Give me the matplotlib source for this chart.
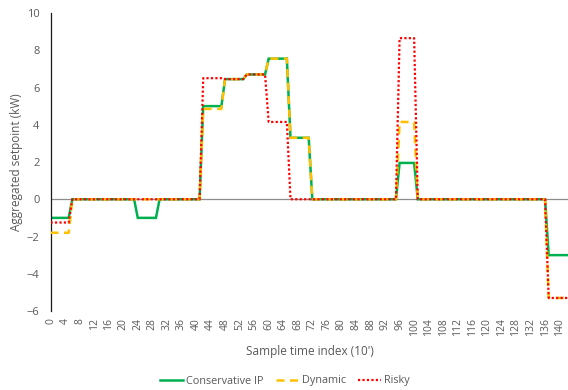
import numpy as np
import matplotlib.pyplot as plt

plt.rcParams['font.family'] = ['Open Sans', 'DejaVu Sans']

# setpoint runs per strategy: (number of samples, value in kW)
conservative_runs = [(6, -1.0), (18, 0.0), (6, -1.0), (12, 0.0), (6, 5.0), (6, 6.45),
                     (6, 6.7), (6, 7.55), (6, 3.3), (24, 0.0), (5, 1.95), (36, 0.0), (7, -3.0)]
dynamic_runs = [(6, -1.8), (36, 0.0), (6, 4.85), (6, 6.45), (6, 6.7), (6, 7.55),
                (6, 3.3), (24, 0.0), (5, 4.15), (36, 0.0), (7, -5.3)]
risky_runs = [(6, -1.25), (36, 0.0), (6, 6.5), (6, 6.45), (6, 6.7), (6, 4.15),
              (30, 0.0), (5, 8.65), (36, 0.0), (7, -5.3)]

series_names = ['Conservative IP', 'Dynamic', 'Risky']
y_ticks = [-6, -4, -2, 0, 2, 4, 6, 8, 10]


def expand(runs):
    return np.concatenate([np.full(n, v) for n, v in runs])


conservative = expand(conservative_runs)
dynamic = expand(dynamic_runs)
risky = expand(risky_runs)
t = np.arange(len(conservative))

grey = '#595959'

fig = plt.figure(figsize=(5.68, 3.9), dpi=100)
ax = fig.add_axes([50.5 / 568, 79 / 390, 520 / 568, 298 / 390])

ax.axhline(0, color='#8c8c8c', lw=0.9, zorder=1)

ax.plot(t, conservative, color='#00b050', lw=1.8, solid_joinstyle='miter',
        label=series_names[0], zorder=2)
ax.plot(t, dynamic, color='#ffc000', lw=1.8, dashes=(3.2, 2.2),
        label=series_names[1], zorder=3)
ax.plot(t, risky, color='#ff0000', lw=1.6, dashes=(1, 1), dash_capstyle='butt',
        label=series_names[2], zorder=4)

ax.set_xlim(0, 143)
ax.set_ylim(-6, 10)
ax.set_yticks(y_ticks)
ax.set_xticks(np.arange(0, 144, 4))
ax.tick_params(axis='y', length=0, pad=8, labelsize=8, labelcolor=grey)
ax.tick_params(axis='x', length=0, pad=5, labelsize=7.5, labelcolor=grey,
               labelrotation=90)

for side in ['top', 'right', 'bottom']:
    ax.spines[side].set_visible(False)
ax.spines['left'].set_color('#1a1a1a')
ax.spines['left'].set_linewidth(0.9)

fig.text(17 / 568, 1 - 162 / 390, 'Aggregated setpoint (kW)', rotation=90,
         ha='center', va='center', fontsize=8.5, color=grey)
fig.text(310 / 568, 1 - 352 / 390, "Sample time index (10')",
         ha='center', va='center', fontsize=8.5, color=grey)

fig.legend(loc='center', bbox_to_anchor=(285 / 568, 1 - 381 / 390), ncol=3,
           frameon=False, fontsize=7.8, handlelength=2.1, handletextpad=0.3,
           columnspacing=1.1, labelcolor=grey)

fig.savefig('out.png', dpi=100)
